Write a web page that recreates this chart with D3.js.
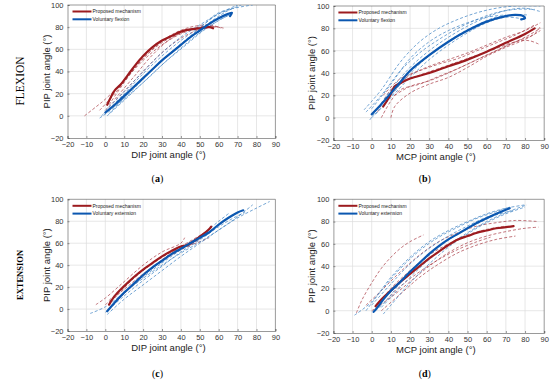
<!DOCTYPE html>
<html>
  <head>
    <meta charset="utf-8">
    <title>Joint angle coordination</title>
    <script src="https://d3js.org/d3.v7.min.js"></script>
    <style>
      body { margin: 0; background: #fff; }
      svg { display: block; }
      .tick text { font-family: "Liberation Sans", Arial, sans-serif; font-size: 7.5px; fill: #333; }
      .axisLabel { font-family: "Liberation Sans", Arial, sans-serif; font-size: 9.5px; fill: #222; }
      .legend text { font-family: "Liberation Sans", Arial, sans-serif; font-size: 5px; fill: #222; }
      .panelLabel { font-family: "Liberation Serif", "Times New Roman", serif; font-size: 10px; fill: #000; }
    </style>
  </head>
  <body>
    <svg id="chart" width="550" height="381"></svg>
    <script>
      // axes ticks
      var xTicks = [-20, -10, 0, 10, 20, 30, 40, 50, 60, 70, 80, 90];
      var yTicks = [-20, 0, 20, 40, 60, 80, 100];

      // (a) DIP vs PIP, flexion
      var aRedMean = [[1,10],[3,17],[5,23],[8,28],[12,37],[16,46],[20,54],[25,62],[30,68],[35,72],[40,76],[45,78],[50,79],[55,80],[57,79]];
      var aBlueMean = [[0,3],[5,10],[10,18],[15,26],[20,34],[25,42],[30,50],[35,57],[40,64],[45,71],[50,77],[55,83],[60,88],[65,92],[67,93],[66,90]];
      var aRedTrials = [
        [[-11,0],[-5,8],[0,15],[10,32],[20,50],[30,64],[40,74],[50,79],[60,80],[62,78]],
        [[-3,5],[5,20],[15,42],[25,60],[35,73],[45,80],[55,82],[60,80]],
        [[2,10],[10,30],[20,52],[30,66],[40,75],[50,80],[58,80]],
        [[5,15],[15,35],[25,55],[35,70],[45,78],[55,81],[63,79]],
        [[0,5],[10,22],[20,40],[30,57],[40,70],[50,78],[56,80]]
      ];
      var aBlueTrials = [
        [[-3,-2],[5,8],[15,25],[25,42],[35,57],[45,71],[55,84],[65,95],[72,100]],
        [[-2,0],[10,20],[20,38],[30,54],[40,68],[50,80],[60,92],[70,100]],
        [[0,5],[10,22],[20,40],[30,57],[40,71],[50,82],[60,92],[68,97]],
        [[2,2],[12,18],[22,33],[32,49],[42,63],[52,77],[62,88],[66,91]],
        [[1,0],[10,14],[20,30],[30,46],[40,61],[50,75],[60,86],[67,92]],
        [[0,2],[10,16],[20,33],[30,50],[40,65],[50,79],[60,93],[78,100]]
      ];

      // (b) MCP vs PIP, flexion
      var bRedMean = [[6,10],[9,18],[12,28],[15,31],[20,35],[30,40],[40,46],[50,52],[60,59],[70,67],[80,75],[85,80]];
      var bBlueMean = [[0,3],[5,12],[10,22],[15,32],[20,42],[30,56],[40,68],[50,78],[60,86],[70,91],[75,92],[79,91],[80,89],[78,88]];
      var bRedTrials = [
        [[3,5],[10,25],[20,38],[30,46],[40,52],[50,58],[60,65],[70,72],[80,78],[88,85]],
        [[5,0],[10,15],[15,25],[25,30],[35,37],[45,44],[55,52],[65,60],[75,68],[85,75],[88,82]],
        [[10,0],[12,10],[20,22],[30,30],[40,36],[50,45],[60,55],[70,63],[80,70],[88,78]],
        [[8,15],[15,30],[25,38],[35,44],[45,50],[55,56],[65,62],[75,68],[82,69],[87,66]],
        [[12,20],[20,28],[30,33],[40,40],[50,48],[60,56],[70,64],[80,72],[88,80]],
        [[6,20],[15,35],[25,42],[35,48],[45,53],[55,60],[65,67],[75,74],[85,83]]
      ];
      var bBlueTrials = [
        [[-4,7],[5,25],[15,50],[25,68],[35,80],[45,88],[55,94],[65,98],[75,100],[88,100]],
        [[-3,5],[5,20],[15,42],[25,58],[35,70],[45,80],[55,88],[65,94],[75,97],[85,97]],
        [[0,0],[8,15],[15,30],[25,48],[35,62],[45,74],[55,83],[65,90],[75,92],[82,92]],
        [[-1,-2],[10,25],[20,45],[30,60],[40,72],[50,82],[60,90],[70,96],[80,98],[88,95]],
        [[2,3],[10,18],[20,36],[30,52],[40,65],[50,76],[60,85],[70,90],[80,88]],
        [[0,8],[10,30],[20,53],[30,68],[40,78],[50,85],[60,90],[70,92]]
      ];

      // (c) DIP vs PIP, extension
      var cRedMean = [[2,4],[5,12],[10,21],[15,29],[20,36],[25,42],[30,48],[35,53],[40,57],[43,58],[46,61],[50,66],[55,73],[56,75]];
      var cBlueMean = [[1,-2],[5,6],[10,15],[15,23],[20,31],[25,38],[30,44],[35,50],[40,55],[45,60],[50,65],[55,70],[60,77],[65,83],[70,88],[73,90]];
      var cRedTrials = [
        [[-5,4],[0,10],[10,25],[20,40],[30,52],[40,60],[42,65]],
        [[2,8],[10,20],[20,35],[30,47],[40,57],[50,67],[55,72]],
        [[0,4],[10,18],[20,32],[30,44],[40,54],[50,64],[55,70]],
        [[5,10],[15,28],[25,42],[35,52],[45,58],[52,68]],
        [[3,2],[10,14],[20,30],[30,45],[40,56],[48,60],[55,65]]
      ];
      var cBlueTrials = [
        [[-8,-4],[0,2],[10,15],[20,28],[30,40],[40,51],[50,61],[60,72],[70,83],[80,92],[87,98]],
        [[0,-3],[10,12],[20,26],[30,39],[40,52],[50,63],[60,75],[70,85],[74,88]],
        [[2,0],[10,14],[20,29],[30,42],[40,54],[50,66],[60,80],[66,88]],
        [[1,-5],[10,9],[20,22],[30,35],[40,48],[50,60],[60,72],[70,84],[78,95]],
        [[3,2],[12,18],[22,33],[32,46],[42,58],[52,68],[58,74]]
      ];

      // (d) MCP vs PIP, extension
      var dRedMean = [[2,4],[5,10],[10,18],[15,26],[20,33],[25,40],[30,47],[35,53],[40,59],[45,64],[50,67],[55,70],[60,72],[65,74],[70,75],[74,76]];
      var dBlueMean = [[1,-1],[3,3],[6,10],[10,18],[15,26],[20,35],[25,43],[30,51],[35,58],[40,64],[45,69],[50,74],[55,79],[60,83],[65,87],[72,92]];
      var dRedTrials = [
        [[-8,-2],[-5,10],[0,25],[5,38],[10,48],[15,56],[20,62],[27,68]],
        [[-3,5],[5,18],[15,35],[25,50],[35,62],[45,70],[55,76],[65,79],[75,81],[87,80]],
        [[0,0],[10,12],[20,26],[30,40],[40,52],[50,61],[60,67],[70,71],[80,74],[87,75]],
        [[5,0],[15,15],[25,30],[35,42],[45,52],[55,59],[65,64],[75,67]],
        [[3,5],[10,20],[20,36],[30,50],[40,60],[50,68],[60,73],[70,76]],
        [[8,10],[15,22],[25,35],[35,46],[45,55],[55,62],[62,66]]
      ];
      var dBlueTrials = [
        [[-9,-4],[0,8],[10,30],[20,48],[30,62],[40,72],[50,80],[60,87],[70,92],[80,95]],
        [[-3,0],[5,18],[15,38],[25,54],[35,66],[45,75],[55,83],[65,89],[72,93]],
        [[6,-3],[10,5],[20,25],[30,42],[40,57],[50,69],[60,79],[70,87],[80,93]],
        [[2,0],[8,10],[15,25],[25,42],[35,57],[45,69],[55,78],[65,86],[74,90]],
        [[0,5],[10,24],[20,42],[30,56],[40,67],[50,76],[60,84],[68,88]],
        [[5,3],[10,12],[20,30],[30,46],[40,59],[50,70],[60,80],[70,88],[81,95]]
      ];

      var panels = [
        { id: "a", xLabel: "DIP joint angle (°)", legend: ["Proposed mechanism", "Voluntary flexion"],
          red: aRedMean, blue: aBlueMean, redTrials: aRedTrials, blueTrials: aBlueTrials,
          left: 67.5, right: 275.4, top: 5, bottom: 138, labelY: 182 },
        { id: "b", xLabel: "MCP joint angle (°)", legend: ["Proposed mechanism", "Voluntary flexion"],
          red: bRedMean, blue: bBlueMean, redTrials: bRedTrials, blueTrials: bBlueTrials,
          left: 333.4, right: 544.2, top: 6, bottom: 140, labelY: 182 },
        { id: "c", xLabel: "DIP joint angle (°)", legend: ["Proposed mechanism", "Voluntary extension"],
          red: cRedMean, blue: cBlueMean, redTrials: cRedTrials, blueTrials: cBlueTrials,
          left: 67.5, right: 275.4, top: 199.3, bottom: 331, labelY: 377 },
        { id: "d", xLabel: "MCP joint angle (°)", legend: ["Proposed mechanism", "Voluntary extension"],
          red: dRedMean, blue: dBlueMean, redTrials: dRedTrials, blueTrials: dBlueTrials,
          left: 333.4, right: 544.2, top: 199.3, bottom: 333, labelY: 377 }
      ];

      var colors = {
        redMean: "#9c1b1f", blueMean: "#0b57b0",
        redTrial: "#a83a44", blueTrial: "#3a80c2"
      };

      svg = d3.select("#chart");

      panels.forEach(function(p) {
        var x = d3.scaleLinear().domain([-20, 90]).range([p.left, p.right]);
        var y = d3.scaleLinear().domain([-20, 100]).range([p.bottom, p.top]);
        var g = svg.append("g").attr("id", "panel-" + p.id);
        var line = d3.line()
          .x(function(d) { return x(d[0]); })
          .y(function(d) { return y(d[1]); })
          .curve(d3.curveCatmullRom.alpha(0.5));

        g.append("clipPath").attr("id", "clip-" + p.id)
          .append("rect")
            .attr("x", p.left).attr("y", p.top)
            .attr("width", p.right - p.left).attr("height", p.bottom - p.top);

        // grid
        g.append("g")
          .selectAll("line")
            .data(xTicks.slice(1, -1))
          .enter().append("line")
            .attr("x1", function(d) { return x(d); }).attr("x2", function(d) { return x(d); })
            .attr("y1", p.top).attr("y2", p.bottom)
            .attr("stroke", "#dcdcdc").attr("stroke-width", 0.7);
        g.append("g")
          .selectAll("line")
            .data(yTicks.slice(1, -1))
          .enter().append("line")
            .attr("x1", p.left).attr("x2", p.right)
            .attr("y1", function(d) { return y(d); }).attr("y2", function(d) { return y(d); })
            .attr("stroke", "#dcdcdc").attr("stroke-width", 0.7);

        // axes
        var xAxis = g.append("g")
          .attr("transform", "translate(0," + p.bottom + ")")
          .call(d3.axisBottom(x).tickValues(xTicks).tickSize(-2).tickPadding(4));
        var yAxis = g.append("g")
          .attr("transform", "translate(" + p.left + ",0)")
          .call(d3.axisLeft(y).tickValues(yTicks).tickSize(-2).tickPadding(4));
        [xAxis, yAxis].forEach(function(a) {
          a.select(".domain").attr("stroke", "#555").attr("stroke-width", 0.6);
          a.selectAll(".tick line").attr("stroke", "#555").attr("stroke-width", 0.6);
        });
        g.append("line")
          .attr("x1", p.left).attr("x2", p.right).attr("y1", p.top).attr("y2", p.top)
          .attr("stroke", "#555").attr("stroke-width", 0.6);
        g.append("line")
          .attr("x1", p.right).attr("x2", p.right).attr("y1", p.top).attr("y2", p.bottom)
          .attr("stroke", "#555").attr("stroke-width", 0.6);

        // curves
        var plot = g.append("g").attr("clip-path", "url(#clip-" + p.id + ")");
        plot.selectAll(".redTrial")
            .data(p.redTrials)
          .enter().append("path")
            .attr("d", line)
            .attr("fill", "none")
            .attr("stroke", colors.redTrial)
            .attr("stroke-width", 0.7)
            .attr("stroke-dasharray", "3,2");
        plot.selectAll(".blueTrial")
            .data(p.blueTrials)
          .enter().append("path")
            .attr("d", line)
            .attr("fill", "none")
            .attr("stroke", colors.blueTrial)
            .attr("stroke-width", 0.7)
            .attr("stroke-dasharray", "3,2");
        plot.append("path")
          .attr("d", line(p.red))
          .attr("fill", "none")
          .attr("stroke", colors.redMean)
          .attr("stroke-width", 2.2)
          .attr("stroke-linecap", "round");
        plot.append("path")
          .attr("d", line(p.blue))
          .attr("fill", "none")
          .attr("stroke", colors.blueMean)
          .attr("stroke-width", 2.2)
          .attr("stroke-linecap", "round");

        // legend
        var leg = g.append("g").classed("legend", true)
          .attr("transform", "translate(" + (p.left + 5) + "," + (p.top + 6.5) + ")");
        leg.selectAll("line")
            .data([colors.redMean, colors.blueMean])
          .enter().append("line")
            .attr("x1", 0).attr("x2", 19)
            .attr("y1", function(d, i) { return i * 7.8; })
            .attr("y2", function(d, i) { return i * 7.8; })
            .attr("stroke", function(d) { return d; })
            .attr("stroke-width", 2);
        leg.selectAll("text")
            .data(p.legend)
          .enter().append("text")
            .attr("x", 20).attr("y", function(d, i) { return i * 7.8 + 1.8; })
            .text(function(d) { return d; });

        // labels
        g.append("text").classed("axisLabel", true)
          .attr("x", (p.left + p.right) / 2 - 3)
          .attr("y", p.bottom + 20)
          .attr("text-anchor", "middle")
          .text(p.xLabel);
        g.append("text").classed("axisLabel", true)
          .attr("transform", "translate(" + (p.left - 18) + "," + ((p.top + p.bottom) / 2) + ") rotate(-90)")
          .attr("text-anchor", "middle")
          .text("PIP joint angle (°)");
        g.append("text").classed("panelLabel", true)
          .attr("x", (p.left + p.right) / 2 - 14)
          .attr("y", p.labelY)
          .attr("text-anchor", "middle")
          .html("(<tspan font-weight='bold'>" + p.id + "</tspan>)");
      });

      // row titles
      svg.append("text")
        .attr("transform", "translate(24,81) rotate(-90)")
        .attr("text-anchor", "middle")
        .style("font-family", "'Liberation Serif', 'Times New Roman', serif")
        .style("font-size", "11.5px")
        .text("FLEXION");
      svg.append("text")
        .attr("transform", "translate(23,275) rotate(-90)")
        .attr("text-anchor", "middle")
        .style("font-family", "'Liberation Serif', 'Times New Roman', serif")
        .style("font-size", "8.5px")
        .style("font-weight", "bold")
        .text("EXTENSION");
    </script>
  </body>
</html>
